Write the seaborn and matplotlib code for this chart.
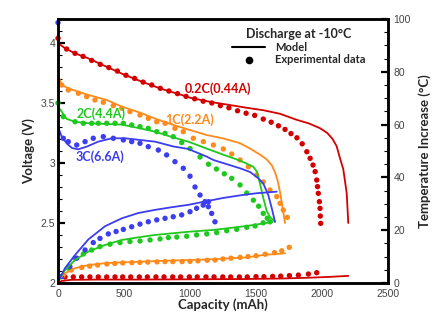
import matplotlib
matplotlib.use("Agg")
import matplotlib.pyplot as plt
from matplotlib.lines import Line2D
from matplotlib.ticker import MultipleLocator
import seaborn as sns
import numpy as np

# ---------------- data ----------------
# 0.2C (0.44A) - red
cap_r_mod = [0, 53, 129, 230, 356, 495, 634, 786, 937, 1000, 1150, 1303, 1430, 1555, 1682, 1808, 1900, 1985, 2040, 2080, 2111, 2136, 2161, 2187, 2199]
V_r_mod = [4.00, 3.956, 3.914, 3.872, 3.808, 3.739, 3.678, 3.617, 3.567, 3.544, 3.51, 3.483, 3.46, 3.44, 3.41, 3.36, 3.33, 3.29, 3.25, 3.20, 3.14, 3.04, 2.95, 2.75, 2.50]
cap_r_exp = [0, 65, 129, 190, 255, 320, 385, 450, 515, 580, 645, 710, 775, 840, 905, 970, 1035, 1100, 1165, 1230, 1295, 1360, 1425, 1490, 1555, 1615, 1670, 1720, 1765, 1810, 1850, 1885, 1910, 1932, 1948, 1960, 1966, 1972, 1980, 1985, 1987, 1990]
V_r_exp = [4.04, 3.95, 3.914, 3.888, 3.855, 3.822, 3.795, 3.766, 3.731, 3.705, 3.674, 3.65, 3.622, 3.60, 3.578, 3.555, 3.535, 3.515, 3.50, 3.478, 3.46, 3.435, 3.415, 3.397, 3.366, 3.34, 3.31, 3.28, 3.245, 3.21, 3.16, 3.094, 3.039, 2.983, 2.928, 2.858, 2.803, 2.747, 2.678, 2.622, 2.558, 2.497]
cap_r_Tmod = [0, 30, 100, 300, 600, 1000, 1400, 1700, 1900, 2050, 2199]
T_r_mod = [0.0, 0.8, 1.2, 1.3, 1.3, 1.4, 1.5, 1.7, 2.0, 2.3, 2.7]
cap_r_Texp = [53, 116, 179, 242, 305, 369, 432, 490, 551, 616, 677, 742, 803, 869, 929, 995, 1055, 1121, 1182, 1248, 1308, 1374, 1434, 1500, 1560, 1626, 1687, 1753, 1821, 1897, 1960]
T_r_exp = [2.3, 2.3, 2.3, 2.3, 2.3, 2.3, 2.3, 2.3, 2.3, 2.3, 2.3, 2.3, 2.3, 2.3, 2.3, 2.3, 2.3, 2.3, 2.3, 2.3, 2.3, 2.3, 2.3, 2.4, 2.4, 2.5, 2.6, 2.8, 3.0, 3.4, 3.9]

# 1C (2.2A) - orange
cap_o_mod = [0, 28, 53, 116, 230, 369, 483, 621, 735, 873, 1000, 1127, 1250, 1379, 1455, 1530, 1581, 1620, 1645, 1665, 1685, 1705, 1720]
V_o_mod = [3.733, 3.65, 3.636, 3.608, 3.567, 3.525, 3.47, 3.42, 3.37, 3.317, 3.275, 3.233, 3.205, 3.165, 3.12, 3.07, 3.03, 2.98, 2.92, 2.85, 2.74, 2.60, 2.50]
cap_o_exp = [28, 78, 154, 217, 280, 343, 419, 483, 545, 621, 684, 748, 811, 886, 949, 1025, 1101, 1177, 1252, 1316, 1379, 1442, 1505, 1555, 1606, 1657, 1682, 1707, 1737]
V_o_exp = [3.65, 3.608, 3.581, 3.553, 3.525, 3.506, 3.478, 3.456, 3.428, 3.40, 3.372, 3.344, 3.331, 3.289, 3.261, 3.206, 3.178, 3.15, 3.117, 3.075, 3.025, 2.969, 2.90, 2.842, 2.775, 2.72, 2.664, 2.608, 2.547]
cap_o_Tmod = [0, 53, 129, 230, 356, 483, 735, 987, 1177, 1430, 1555, 1720]
T_o_mod = [1.1, 3.7, 5.6, 6.8, 7.5, 7.8, 8.3, 8.7, 9.0, 9.7, 10.6, 11.25]
cap_o_Texp = [40, 100, 180, 240, 300, 370, 430, 490, 560, 620, 680, 750, 810, 870, 940, 1000, 1060, 1130, 1190, 1250, 1310, 1380, 1440, 1500, 1570, 1640, 1695, 1752]
T_o_exp = [3.0, 4.9, 5.9, 6.4, 6.8, 7.2, 7.4, 7.6, 7.7, 7.8, 7.9, 8.0, 8.1, 8.1, 8.1, 8.2, 8.4, 8.6, 8.7, 9.1, 9.4, 9.7, 10.0, 10.3, 10.9, 11.5, 12.2, 13.5]

# 2C (4.4A) - green
cap_g_mod = [0, 28, 66, 129, 230, 483, 621, 735, 873, 987, 1127, 1250, 1379, 1480, 1508, 1530, 1555, 1581, 1606, 1644]
V_g_mod = [3.47, 3.428, 3.367, 3.344, 3.331, 3.32, 3.289, 3.261, 3.213, 3.178, 3.12, 3.07, 3.02, 2.969, 2.925, 2.83, 2.71, 2.60, 2.55, 2.51]
cap_g_exp = [0, 40, 129, 192, 255, 305, 369, 432, 495, 558, 621, 684, 748, 811, 873, 937, 1000, 1076, 1140, 1200, 1260, 1316, 1379, 1430, 1480, 1520, 1555, 1585, 1606]
V_g_exp = [3.50, 3.386, 3.344, 3.331, 3.331, 3.331, 3.331, 3.331, 3.331, 3.317, 3.303, 3.289, 3.261, 3.247, 3.219, 3.17, 3.12, 3.05, 2.99, 2.95, 2.91, 2.872, 2.817, 2.75, 2.69, 2.64, 2.58, 2.54, 2.51]
cap_g_Tmod = [0, 53, 129, 230, 356, 483, 608, 735, 861, 987, 1177, 1430, 1625]
T_g_mod = [0.5, 4.9, 8.7, 11.9, 14.4, 16.3, 17.3, 18.2, 18.8, 19.4, 20.1, 21.6, 23.1]
cap_g_Texp = [78, 129, 192, 255, 318, 394, 470, 545, 621, 697, 773, 836, 900, 975, 1050, 1127, 1202, 1278, 1354, 1430, 1493, 1555]
T_g_exp = [5.6, 9.4, 11.0, 12.5, 13.8, 14.7, 15.3, 15.7, 15.9, 16.3, 16.7, 17.2, 17.4, 17.7, 18.2, 18.6, 19.1, 19.8, 20.3, 21.1, 21.6, 22.8]

# 3C (6.6A) - blue
cap_b_mod = [0, 28, 66, 106, 152, 217, 305, 407, 508, 621, 735, 873, 987, 1127, 1177, 1379, 1455, 1515, 1555, 1593, 1619, 1644]
V_b_mod = [3.303, 3.22, 3.163, 3.125, 3.114, 3.136, 3.178, 3.206, 3.206, 3.192, 3.178, 3.138, 3.117, 3.053, 3.025, 2.956, 2.925, 2.875, 2.83, 2.733, 2.625, 2.51]
cap_b_exp = [0, 40, 78, 142, 205, 267, 343, 419, 495, 558, 621, 684, 760, 823, 886, 949, 1000, 1038, 1076, 1114, 1139, 1164, 1189]
V_b_exp = [4.17, 3.206, 3.178, 3.15, 3.178, 3.206, 3.22, 3.206, 3.192, 3.178, 3.164, 3.136, 3.108, 3.067, 3.011, 2.956, 2.89, 2.80, 2.733, 2.678, 2.636, 2.58, 2.51]
cap_b_Tmod = [0, 53, 129, 230, 356, 483, 608, 735, 861, 987, 1127, 1250, 1379, 1505, 1657]
T_b_mod = [0.5, 5.6, 10.6, 16.5, 21.5, 24.5, 26.5, 27.7, 28.7, 29.6, 31.0, 32.2, 33.2, 34.0, 34.6]
cap_b_Texp = [25, 90, 142, 205, 267, 318, 381, 440, 495, 558, 621, 684, 748, 811, 873, 937, 1000, 1050, 1100, 1140]
T_b_exp = [2.4, 6.2, 9.4, 12.5, 15.3, 16.9, 18.6, 19.5, 20.3, 21.3, 22.3, 23.2, 23.9, 24.5, 25.1, 25.8, 27.0, 28.3, 29.5, 30.8]

labels = ["0.2C(0.44A)", "1C(2.2A)", "2C(4.4A)", "3C(6.6A)"]
colors = ["#d40000", "#ff8a1c", "#1ec81e", "#3c3cf0"]

# ---------------- plot ----------------
sns.set_style("white")
plt.rcParams["font.family"] = ["Liberation Sans", "DejaVu Sans"]

fig = plt.figure(figsize=(4.45, 3.23), dpi=100)
ax = fig.add_axes([58 / 445, 40 / 323, 330 / 445, 264 / 323])
ax2 = ax.twinx()

series = [
    (cap_r_mod, V_r_mod, cap_r_exp, V_r_exp, cap_r_Tmod, T_r_mod, cap_r_Texp, T_r_exp),
    (cap_o_mod, V_o_mod, cap_o_exp, V_o_exp, cap_o_Tmod, T_o_mod, cap_o_Texp, T_o_exp),
    (cap_g_mod, V_g_mod, cap_g_exp, V_g_exp, cap_g_Tmod, T_g_mod, cap_g_Texp, T_g_exp),
    (cap_b_mod, V_b_mod, cap_b_exp, V_b_exp, cap_b_Tmod, T_b_mod, cap_b_Texp, T_b_exp),
]

for (cm, vm, ce, ve, ctm, tm, cte, te), col in zip(series, colors):
    sns.lineplot(x=cm, y=vm, ax=ax, color=col, lw=1.3, sort=False, estimator=None)
    sns.scatterplot(x=ce, y=ve, ax=ax, color=col, s=15, edgecolor="none", clip_on=False)
    sns.lineplot(x=ctm, y=tm, ax=ax2, color=col, lw=1.3, sort=False, estimator=None)
    sns.scatterplot(x=cte, y=te, ax=ax2, color=col, s=15, edgecolor="none")

ax.set_xlim(0, 2500)
ax.set_ylim(2, 4.2)
ax2.set_ylim(0, 100)

ax.xaxis.set_major_locator(MultipleLocator(500))
ax.xaxis.set_minor_locator(MultipleLocator(100))
ax.yaxis.set_major_locator(MultipleLocator(0.5))
ax.yaxis.set_minor_locator(MultipleLocator(0.1))
ax2.yaxis.set_major_locator(MultipleLocator(20))
ax2.yaxis.set_minor_locator(MultipleLocator(5))

tick_color = "#444444"
for a in (ax, ax2):
    for sp in a.spines.values():
        sp.set_linewidth(1.8)
        sp.set_color("black")
ax.tick_params(axis="both", which="major", direction="in", length=5, width=1.6,
               labelsize=7.5, labelcolor=tick_color, color="black", pad=2)
ax.tick_params(axis="x", which="major", pad=4)
ax.tick_params(axis="both", which="minor", direction="in", length=3, width=0.8, color="black")
ax.tick_params(axis="x", top=False, which="both")
ax.tick_params(axis="y", right=False, which="both")
ax2.tick_params(axis="y", which="major", direction="in", length=5, width=1.6,
                labelsize=7.5, labelcolor=tick_color, color="black", pad=4)
ax2.tick_params(axis="y", which="minor", direction="in", length=3, width=0.8, color="black")

ax.yaxis.set_major_formatter(matplotlib.ticker.FuncFormatter(lambda v, p: f"{v:g}"))

lab_font = dict(family=["Lato", "DejaVu Sans"], weight="bold", size=9.5)
ax.set_xlabel("Capacity (mAh)", labelpad=0, **lab_font)
ax.set_ylabel("Voltage (V)", labelpad=4, **lab_font)
ax2.set_ylabel("Temperature Increase (\u00b0C)", labelpad=5, **lab_font)

ann_font = dict(family=["Lato", "DejaVu Sans"], weight="bold", size=9)
ax.text(1215, 3.62, labels[0], color=colors[0], ha="center", va="center", **ann_font)
ax.text(1000, 3.36, labels[1], color=colors[1], ha="center", va="center", **ann_font)
ax.text(330, 3.41, labels[2], color=colors[2], ha="center", va="center", **ann_font)
ax.text(320, 3.05, labels[3], color=colors[3], ha="center", va="center", **ann_font)

handles = [Line2D([], [], color="black", lw=1.5),
           Line2D([], [], color="black", marker="o", ls="none", markersize=4.5)]
leg = ax.legend(handles, ["Model", "Experimental data"], title="Discharge at -10\u00b0C",
                loc="upper center", bbox_to_anchor=(0.73, 0.995), frameon=False,
                handlelength=3.0, handletextpad=0.9, labelspacing=0.15, borderpad=0.2,
                prop=dict(family=["Lato", "DejaVu Sans"], weight="bold", size=8))
leg.get_title().set_fontproperties(dict(family=["Lato", "DejaVu Sans"], weight="bold", size=9))

fig.savefig("out.png", dpi=100)
